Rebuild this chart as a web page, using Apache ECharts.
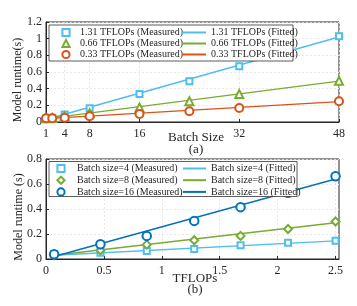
<!DOCTYPE html>
<html><head><meta charset="utf-8">
<script src="https://cdn.jsdelivr.net/npm/echarts@6/dist/echarts.min.js"></script>
<style>html,body{margin:0;padding:0;background:#fff}#c{width:357px;height:306px}</style>
</head><body><div id="c"></div>
<script>
// ---- Panel (a) data ----
const batchSizes = [1, 2, 4, 8, 16, 24, 32, 48];
const tf131Measured = [0.04, 0.05, 0.09, 0.165, 0.335, 0.49, 0.67, 1.03];
const tf066Measured = [0.045, 0.048, 0.065, 0.105, 0.175, 0.25, 0.335, 0.495];
const tf033Measured = [0.045, 0.045, 0.05, 0.068, 0.097, 0.13, 0.167, 0.25];
const fitBatch = [1, 48];
const tf131Fitted = [0.03, 1.02];
const tf066Fitted = [0.04, 0.49];
const tf033Fitted = [0.04, 0.245];
const topXTicks = [1, 4, 8, 16, 32, 48];

// ---- Panel (b) data ----
const tflops = [0.07, 0.47, 0.87, 1.28, 1.68, 2.09, 2.5];
const bs4Measured = [0.04, 0.05, 0.064, 0.08, 0.11, 0.13, 0.146];
const bs8Measured = [0.03, 0.07, 0.115, 0.15, 0.185, 0.24, 0.30];
const bs16Measured = [0.038, 0.118, 0.185, 0.305, 0.415, 0.53, 0.662];
const fitTflops = [0.07, 2.5];
const bs4Fitted = [0.03, 0.145];
const bs8Fitted = [0.03, 0.29];
const bs16Fitted = [0.02, 0.64];
const bottomXTicks = [0, 0.5, 1, 1.5, 2, 2.5];

const C_LB = '#4DBEEE', C_G = '#77AC30', C_O = '#D95319', C_B = '#0072BD';
const FONT = 'Liberation Serif';
const zip = (xs, ys) => xs.map((x, i) => [x, ys[i]]);

function measured(name, xs, ys, color, symbol, size, gi) {
  return { name, type: 'line', xAxisIndex: gi, yAxisIndex: gi, data: zip(xs, ys),
    symbol, symbolSize: size, showSymbol: true,
    lineStyle: { width: 0, opacity: 0 }, itemStyle: { color, borderWidth: 1.1 }, z: 3, animation: false };
}
function fitted(name, xs, ys, color, gi) {
  return { name, type: 'line', xAxisIndex: gi, yAxisIndex: gi, data: zip(xs, ys),
    symbol: 'none', lineStyle: { color, width: 1.4 }, itemStyle: { color }, z: 2, animation: false };
}
const axisText = { color: '#262626', fontFamily: FONT, fontSize: 12 };
const gridLine = { show: true, lineStyle: { color: '#e3e3e3', type: [2, 2], width: 0.8 } };
const legendText = { color: '#262626', fontFamily: FONT, fontSize: 10, lineHeight: 11 };

const chart = echarts.init(document.getElementById('c'), null, { renderer: 'canvas' });
chart.setOption({
  backgroundColor: '#fff',
  animation: false,
  grid: [
    { left: 46, right: 18, top: 22, height: 100, show: true, borderColor: '#262626', borderWidth: 1 },
    { left: 46, right: 18, top: 159, height: 100, show: true, borderColor: '#262626', borderWidth: 1 }
  ],
  xAxis: [
    { type: 'value', gridIndex: 0, min: 1, max: 48,
      axisLine: { lineStyle: { color: '#262626' } },
      axisTick: { inside: true, length: 3, customValues: topXTicks, lineStyle: { color: '#262626' } },
      axisLabel: Object.assign({ margin: 6, customValues: topXTicks }, axisText),
      splitLine: gridLine },
    { type: 'value', gridIndex: 1, min: 0, max: 2.53,
      axisLine: { lineStyle: { color: '#262626' } },
      axisTick: { inside: true, length: 3, customValues: bottomXTicks, lineStyle: { color: '#262626' } },
      axisLabel: Object.assign({ margin: 6, customValues: bottomXTicks }, axisText),
      splitLine: gridLine }
  ],
  yAxis: [
    { type: 'value', gridIndex: 0, min: 0, max: 1.2, interval: 0.2,
      axisLine: { show: true, lineStyle: { color: '#262626' } },
      axisTick: { show: true, inside: true, length: 3, lineStyle: { color: '#262626' } },
      axisLabel: Object.assign({ margin: 4 }, axisText), splitLine: gridLine },
    { type: 'value', gridIndex: 1, min: 0, max: 0.8, interval: 0.2,
      axisLine: { show: true, lineStyle: { color: '#262626' } },
      axisTick: { show: true, inside: true, length: 3, lineStyle: { color: '#262626' } },
      axisLabel: Object.assign({ margin: 4 }, axisText), splitLine: gridLine }
  ],
  legend: [
    { orient: 'vertical', left: 57, top: 27, padding: 0, itemGap: 0, itemWidth: 18, itemHeight: 9, z: 5,
      data: ['1.31 TFLOPs (Measured)', '0.66 TFLOPs (Measured)', '0.33 TFLOPs (Measured)'], textStyle: legendText },
    { orient: 'vertical', left: 182, top: 27, padding: 0, itemGap: 0, itemWidth: 24, itemHeight: 2, z: 5,
      data: [{ name: '1.31 TFLOPs (Fitted)', icon: 'rect' }, { name: '0.66 TFLOPs (Fitted)', icon: 'rect' }, { name: '0.33 TFLOPs (Fitted)', icon: 'rect' }],
      textStyle: legendText },
    { orient: 'vertical', left: 50, top: 163, padding: 0, itemGap: 0.7, itemWidth: 22, itemHeight: 9, z: 5,
      data: ['Batch size=4 (Measured)', 'Batch size=8 (Measured)', 'Batch size=16 (Measured)'], textStyle: legendText },
    { orient: 'vertical', left: 183, top: 163, padding: 0, itemGap: 0.7, itemWidth: 23, itemHeight: 2, z: 5,
      data: [{ name: 'Batch size=4 (Fitted)', icon: 'rect' }, { name: 'Batch size=8 (Fitted)', icon: 'rect' }, { name: 'Batch size=16 (Fitted)', icon: 'rect' }],
      textStyle: legendText }
  ],
  graphic: [
    { type: 'rect', z: 4, shape: { x: 49, y: 25, width: 244, height: 36 }, style: { fill: '#fff', stroke: '#333', lineWidth: 0.8 } },
    { type: 'rect', z: 4, shape: { x: 49, y: 161.5, width: 248, height: 35 }, style: { fill: '#fff', stroke: '#333', lineWidth: 0.8 } },
    { type: 'text', x: 18, y: 80, rotation: Math.PI / 2, z: 5,
      style: { text: 'Model runtime(s)', font: '12px "Liberation Serif"', fill: '#262626', align: 'center', verticalAlign: 'middle', textAlign: 'center', textVerticalAlign: 'middle' } },
    { type: 'text', x: 18.5, y: 217, rotation: Math.PI / 2, z: 5,
      style: { text: 'Model runtime (s)', font: '12px "Liberation Serif"', fill: '#262626', align: 'center', verticalAlign: 'middle', textAlign: 'center', textVerticalAlign: 'middle' } },
    { type: 'text', x: 196, y: 137.5, z: 5,
      style: { text: 'Batch Size', font: '13px "Liberation Serif"', fill: '#262626', align: 'center', verticalAlign: 'middle', textAlign: 'center', textVerticalAlign: 'middle' } },
    { type: 'text', x: 196, y: 149.5, z: 5,
      style: { text: '(a)', font: '13px "Liberation Serif"', fill: '#262626', align: 'center', verticalAlign: 'middle', textAlign: 'center', textVerticalAlign: 'middle' } },
    { type: 'text', x: 195, y: 278.5, z: 5,
      style: { text: 'TFLOPs', font: '13px "Liberation Serif"', fill: '#262626', align: 'center', verticalAlign: 'middle', textAlign: 'center', textVerticalAlign: 'middle' } },
    { type: 'text', x: 195, y: 290, z: 5,
      style: { text: '(b)', font: '13px "Liberation Serif"', fill: '#262626', align: 'center', verticalAlign: 'middle', textAlign: 'center', textVerticalAlign: 'middle' } }
  ],
  series: [
    fitted('1.31 TFLOPs (Fitted)', fitBatch, tf131Fitted, C_LB, 0),
    fitted('0.66 TFLOPs (Fitted)', fitBatch, tf066Fitted, C_G, 0),
    fitted('0.33 TFLOPs (Fitted)', fitBatch, tf033Fitted, C_O, 0),
    measured('1.31 TFLOPs (Measured)', batchSizes, tf131Measured, C_LB, 'emptyRect', 6, 0),
    measured('0.66 TFLOPs (Measured)', batchSizes, tf066Measured, C_G, 'emptyTriangle', 8, 0),
    measured('0.33 TFLOPs (Measured)', batchSizes, tf033Measured, C_O, 'emptyCircle', 8, 0),
    fitted('Batch size=4 (Fitted)', fitTflops, bs4Fitted, C_LB, 1),
    fitted('Batch size=8 (Fitted)', fitTflops, bs8Fitted, C_G, 1),
    fitted('Batch size=16 (Fitted)', fitTflops, bs16Fitted, C_B, 1),
    measured('Batch size=4 (Measured)', tflops, bs4Measured, C_LB, 'emptyRect', 6, 1),
    measured('Batch size=8 (Measured)', tflops, bs8Measured, C_G, 'emptyDiamond', 8, 1),
    measured('Batch size=16 (Measured)', tflops, bs16Measured, C_B, 'emptyCircle', 8.5, 1)
  ]
});
</script></body></html>
